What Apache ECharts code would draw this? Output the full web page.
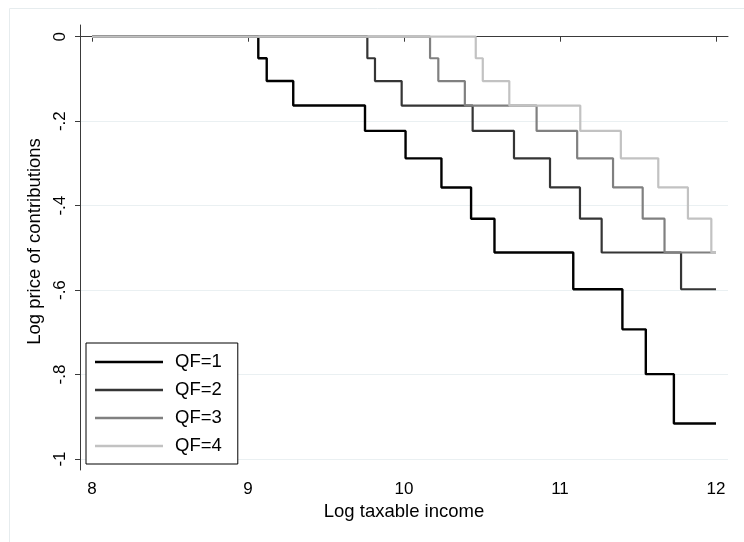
<!DOCTYPE html>
<html>
<head>
<meta charset="utf-8">
<script src="https://cdn.jsdelivr.net/npm/echarts@6/dist/echarts.min.js"></script>
<style>
html,body{margin:0;padding:0;background:#fff;}
#chart{width:744px;height:542px;}
</style>
</head>
<body>
<div id="chart"></div>
<script>
// Data
const seriesNames = ['QF=1', 'QF=2', 'QF=3', 'QF=4'];
const xQF1 = [8, 9.066, 9.12, 9.29, 9.75, 10.01, 10.24, 10.43, 10.58, 11.085, 11.40, 11.55, 11.73, 12];
const yQF1 = [0, -0.051, -0.105, -0.163, -0.223, -0.288, -0.357, -0.431, -0.511, -0.598, -0.693, -0.799, -0.916, -0.916];
const xQF2 = [8, 9.765, 9.814, 9.985, 10.44, 10.705, 10.936, 11.128, 11.267, 11.776, 12];
const yQF2 = [0, -0.051, -0.105, -0.163, -0.223, -0.288, -0.357, -0.431, -0.511, -0.598, -0.598];
const xQF3 = [8, 10.167, 10.22, 10.39, 10.85, 11.11, 11.34, 11.53, 11.67, 12];
const yQF3 = [0, -0.051, -0.105, -0.163, -0.223, -0.288, -0.357, -0.431, -0.511, -0.511];
const xQF4 = [8, 10.46, 10.505, 10.675, 11.13, 11.39, 11.63, 11.82, 11.97, 12];
const yQF4 = [0, -0.051, -0.105, -0.163, -0.223, -0.288, -0.357, -0.431, -0.511, -0.511];
const xTicks = [8, 9, 10, 11, 12];
const yTicks = [0, -0.2, -0.4, -0.6, -0.8, -1];

const colors = ['#000000', '#353535', '#808080', '#c2c2c2'];
const widths = [2.4, 2.2, 2.2, 2.2];
const xs = [xQF1, xQF2, xQF3, xQF4];
const ys = [yQF1, yQF2, yQF3, yQF4];
const FONT = '"Liberation Sans", Arial, Helvetica, sans-serif';

function fmtY(v) {
  if (v === 0) return '0';
  if (v === -1) return '-1';
  return String(v).replace('0.', '.');
}

const chart = echarts.init(document.getElementById('chart'), null, {renderer: 'canvas'});
const option = {
  animation: false,
  backgroundColor: '#ffffff',
  textStyle: {fontFamily: FONT},
  graphic: [{
    type: 'rect',
    left: 7, top: 6,
    shape: {width: 800, height: 600},
    style: {fill: 'none', stroke: '#e6ecee', lineWidth: 1},
    silent: true, z: -10
  }],
  grid: {left: 80, right: 16, top: 25, bottom: 72, containLabel: false},
  legend: {
    orient: 'vertical',
    left: 86, top: 343,
    icon: 'rect',
    itemWidth: 68, itemHeight: 2.4, itemGap: 8,
    padding: [9, 16, 8, 9],
    borderColor: '#000', borderWidth: 1, borderRadius: 0,
    backgroundColor: '#ffffff',
    data: seriesNames,
    textStyle: {fontSize: 18.5, color: '#000', fontFamily: FONT, lineHeight: 20, padding: [0, 0, 0, 7]}
  },
  xAxis: {
    type: 'value',
    min: 7.9231, max: 12.0769,
    name: 'Log taxable income',
    nameLocation: 'middle',
    nameGap: 31,
    nameTextStyle: {fontSize: 18.5, color: '#000', fontFamily: FONT},
    axisLine: {show: true, lineStyle: {color: '#3a3a3a', width: 1}},
    axisTick: {show: true, length: 5, customValues: xTicks, lineStyle: {color: '#3a3a3a'}},
    axisLabel: {customValues: xTicks, fontSize: 17, color: '#000', margin: 11, fontFamily: FONT},
    splitLine: {show: false}
  },
  yAxis: {
    type: 'value',
    min: -1.026, max: 0.0277,
    name: 'Log price of contributions',
    nameLocation: 'middle',
    nameGap: 33,
    nameRotate: 90,
    nameTextStyle: {fontSize: 18.5, color: '#000', fontFamily: FONT, padding: [0, 0, 0, 12]},
    axisLine: {show: true, lineStyle: {color: '#3a3a3a', width: 1}},
    axisTick: {show: true, length: 5, customValues: yTicks, lineStyle: {color: '#3a3a3a'}},
    axisLabel: {customValues: yTicks, rotate: 90, fontSize: 17, color: '#000', margin: 11, fontFamily: FONT, formatter: fmtY},
    splitLine: {show: true, lineStyle: {color: '#eaf0f2', width: 1}}
  },
  series: seriesNames.map((name, i) => ({
    name: name,
    type: 'line',
    step: 'end',
    symbol: 'none',
    showSymbol: false,
    color: colors[i],
    lineStyle: {color: colors[i], width: widths[i]},
    data: xs[i].map((x, j) => [x, ys[i][j]]),
    z: 2 + i
  }))
};
chart.setOption(option);
</script>
</body>
</html>
